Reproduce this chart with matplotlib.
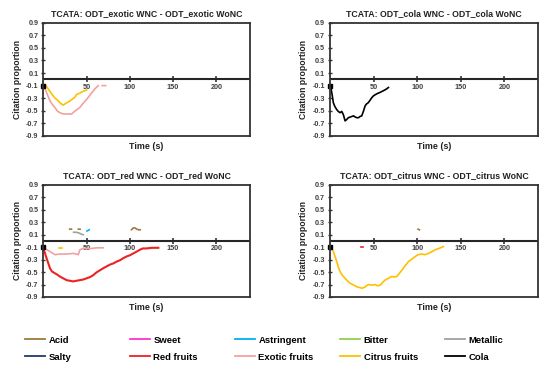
import matplotlib.pyplot as plt
import numpy as np

nan = np.nan

# ---- colours of the attributes ----
attr_names = ['Acid', 'Sweet', 'Astringent', 'Bitter', 'Metallic',
              'Salty', 'Red fruits', 'Exotic fruits', 'Citrus fruits', 'Cola']
attr_colors = ['#9c7b3c', '#ff33cc', '#00b0f0', '#92d050', '#a0a0a0',
               '#1f3b6b', '#ee2222', '#f4a0a0', '#ffc000', '#000000']
col = dict(zip(attr_names, attr_colors))

panel_titles = ['TCATA: ODT_exotic WNC - ODT_exotic WoNC',
                'TCATA: ODT_cola WNC - ODT_cola WoNC',
                'TCATA: ODT_red WNC - ODT_red WoNC',
                'TCATA: ODT_citrus WNC - ODT_citrus WoNC']

y_ticks = [0.9, 0.7, 0.5, 0.3, 0.1, -0.1, -0.3, -0.5, -0.7, -0.9]
x_ticks = [50, 100, 150, 200]

# ---- panel 1: exotic ----
exotic_ex_t = [0.8, 4, 8, 11, 13.5, 16, 19, 23, 27, 32.8, 36, 39, 42, 46, 50, 55, 59.7, 63.5, nan, 68, 72]
exotic_ex_y = [-0.10, -0.22, -0.35, -0.41, -0.45, -0.50, -0.53, -0.55, -0.55, -0.55, -0.51, -0.48, -0.45, -0.38, -0.32, -0.23, -0.15, -0.10, nan, -0.10, -0.10]
citrus_ex_t = [2, 5, 9, 13, 17, 20, 23, 26, 29, 33, 36, 38.5, 42, 46, 50]
citrus_ex_y = [-0.08, -0.14, -0.22, -0.29, -0.34, -0.38, -0.41, -0.38, -0.36, -0.32, -0.29, -0.24, -0.22, -0.19, -0.17]

# ---- panel 2: cola ----
cola_t = [0, 1, 2.5, 3.8, 5.5, 7.7, 9.5, 11.5, 13.5, 15.3, 17.3, 19, 21, 23, 25, 27, 29, 31,
          32.6, 34.5, 36.4, 38.5, 40.3, 42, 44, 46, 48, 50, 53.6, 57, 61.3, 64, 67]
cola_y = [-0.10, -0.13, -0.25, -0.37, -0.43, -0.48, -0.51, -0.53, -0.51, -0.56, -0.66, -0.64,
          -0.61, -0.60, -0.59, -0.58, -0.60, -0.61, -0.61, -0.59, -0.58, -0.50, -0.42, -0.39,
          -0.37, -0.33, -0.29, -0.26, -0.23, -0.21, -0.18, -0.16, -0.13]

# ---- panel 3: red ----
red_t = [0, 2, 3.8, 6, 7.7, 10, 13.5, 16, 19, 23, 27, 31, 34.6, 38, 42, 46, 50, 54, 57.7, 61,
         65.5, 69, 73, 77, 81, 85, 88.6, 92, 96, 100, 104, 108, 111.7, 115, 119, 125, 133]
red_y = [-0.12, -0.20, -0.28, -0.37, -0.44, -0.49, -0.52, -0.54, -0.57, -0.60, -0.63, -0.64,
         -0.65, -0.64, -0.63, -0.62, -0.60, -0.58, -0.55, -0.51, -0.47, -0.44, -0.41, -0.38,
         -0.36, -0.33, -0.31, -0.28, -0.25, -0.23, -0.20, -0.17, -0.14, -0.12, -0.12, -0.11, -0.11]
exotic_red_t = [0, 4, 7.7, 11, 13.5, 19, 27, 34.6, 38, 40.4, 42.3, 46, 55, 62, 69]
exotic_red_y = [-0.11, -0.14, -0.17, -0.20, -0.22, -0.21, -0.21, -0.20, -0.21, -0.22, -0.14, -0.12, -0.12, -0.11, -0.11]
citrus_red_t = [18, 21]
citrus_red_y = [-0.12, -0.12]
acid_red_t = [30.5, 32.5, nan, 40.5, 42.5, nan, 102, 104, 106, 108, 110, 112]
acid_red_y = [0.19, 0.19, nan, 0.19, 0.19, nan, 0.18, 0.21, 0.21, 0.19, 0.18, 0.18]
metallic_red_t = [35, 38, 41, 44, 46]
metallic_red_y = [0.14, 0.14, 0.13, 0.11, 0.10]
astr_red_t = [50.5, 53]
astr_red_y = [0.16, 0.18]

# ---- panel 4: citrus ----
citrus_ci_t = [0, 2, 3.8, 5.8, 7.7, 9.6, 11.5, 14, 17.2, 20, 23, 26, 28.7, 31.5, 34.5, 37, 40, 42,
               44, 48, 51.7, 54.5, 57.5, 60, 63, 67, 70.8, 74, 76.6, 79.5, 82.4, 86, 90, 94,
               97.7, 101, 105, 109, 113, 117, 120.7, 125, 130]
citrus_ci_y = [-0.09, -0.12, -0.17, -0.25, -0.33, -0.42, -0.49, -0.55, -0.60, -0.64, -0.68, -0.70,
               -0.72, -0.74, -0.75, -0.76, -0.74, -0.72, -0.70, -0.71, -0.70, -0.72, -0.71, -0.67,
               -0.63, -0.60, -0.57, -0.58, -0.57, -0.52, -0.47, -0.40, -0.33, -0.29, -0.25, -0.22,
               -0.21, -0.22, -0.20, -0.17, -0.14, -0.12, -0.09]
red_ci_t = [36, 38]
red_ci_y = [-0.10, -0.10]
acid_ci_t = [101, 102.5]
acid_ci_y = [0.19, 0.18]

# small black start mark shown in every panel
start_t = [0]
start_y = [-0.1]

plt.rcParams['font.family'] = ['Liberation Sans', 'DejaVu Sans']
plt.rcParams['font.weight'] = 'bold'

fig = plt.figure(figsize=(5.5, 3.73), dpi=100)

frame_col = '#333333'
tick_col = '#404040'
positions = [[0.0788, 0.6354, 0.3758, 0.3038],
             [0.6000, 0.6354, 0.3790, 0.3038],
             [0.0788, 0.2038, 0.3758, 0.3003],
             [0.6000, 0.2038, 0.3790, 0.3003]]

axes = []
for pos, title in zip(positions, panel_titles):
    ax = fig.add_axes(pos)
    ax.set_xlim(0, 239)
    ax.set_ylim(-0.9, 0.9)
    ax.set_yticks(y_ticks)
    ax.set_yticklabels([f'{v:.1f}' for v in y_ticks])
    ax.tick_params(axis='y', direction='inout', length=3, width=1, color=frame_col,
                   labelsize=5.2, labelcolor=tick_col, pad=2)
    ax.tick_params(axis='x', bottom=False, labelbottom=False)
    for s in ax.spines.values():
        s.set_color(frame_col)
        s.set_linewidth(1.3)
    ax.set_title(title, fontsize=6.3, fontweight='bold', pad=5, color='#222222')
    ax.set_ylabel('Citation proportion', fontsize=6.2, fontweight='bold', labelpad=3, color='#222222')
    ax.set_xlabel('Time (s)', fontsize=6.4, fontweight='bold', labelpad=4, color='#222222')
    # zero line carrying the time ticks
    ax.axhline(0, color='#262626', lw=1.5, zorder=1)
    sec = ax.secondary_xaxis(0.5)
    sec.set_alignment('bottom')
    sec.set_xticks(x_ticks)
    sec.tick_params(direction='inout', length=4, width=1.1, color='#262626',
                    labelsize=5.2, labelcolor=tick_col, pad=1)
    sec.spines['bottom'].set_visible(False)
    axes.append(ax)

lw = 1.2
ax1, ax2, ax3, ax4 = axes

ax1.plot(exotic_ex_t, exotic_ex_y, color=col['Exotic fruits'], lw=lw)
ax1.plot(citrus_ex_t, citrus_ex_y, color=col['Citrus fruits'], lw=lw)

ax2.plot(cola_t, cola_y, color=col['Cola'], lw=lw)

ax3.plot(exotic_red_t, exotic_red_y, color=col['Exotic fruits'], lw=lw)
ax3.plot(red_t, red_y, color=col['Red fruits'], lw=1.5)
ax3.plot(citrus_red_t, citrus_red_y, color=col['Citrus fruits'], lw=lw)
ax3.plot(acid_red_t, acid_red_y, color=col['Acid'], lw=lw)
ax3.plot(metallic_red_t, metallic_red_y, color=col['Metallic'], lw=lw)
ax3.plot(astr_red_t, astr_red_y, color=col['Astringent'], lw=lw)

ax4.plot(citrus_ci_t, citrus_ci_y, color=col['Citrus fruits'], lw=lw)
ax4.plot(red_ci_t, red_ci_y, color=col['Red fruits'], lw=lw)
ax4.plot(acid_ci_t, acid_ci_y, color=col['Acid'], lw=lw)

for ax in axes:
    ax.plot(start_t, start_y, marker='s', ms=2.5, color='black', lw=0, clip_on=False)

# ---- legend: five columns of two entries ----
col_x = [0.045, 0.236, 0.427, 0.618, 0.809]
for i, x in enumerate(col_x):
    names = [attr_names[i], attr_names[i + 5]]
    handles = [plt.Line2D([], [], color=col[n], lw=1.3) for n in names]
    fig.legend(handles, names, loc='upper left', bbox_to_anchor=(x, 0.10),
               frameon=False, handlelength=2.1, handletextpad=0.4,
               labelspacing=0.85, borderaxespad=0, borderpad=0,
               prop={'weight': 'bold', 'size': 6.8})

fig.savefig('out.png', dpi=100)
